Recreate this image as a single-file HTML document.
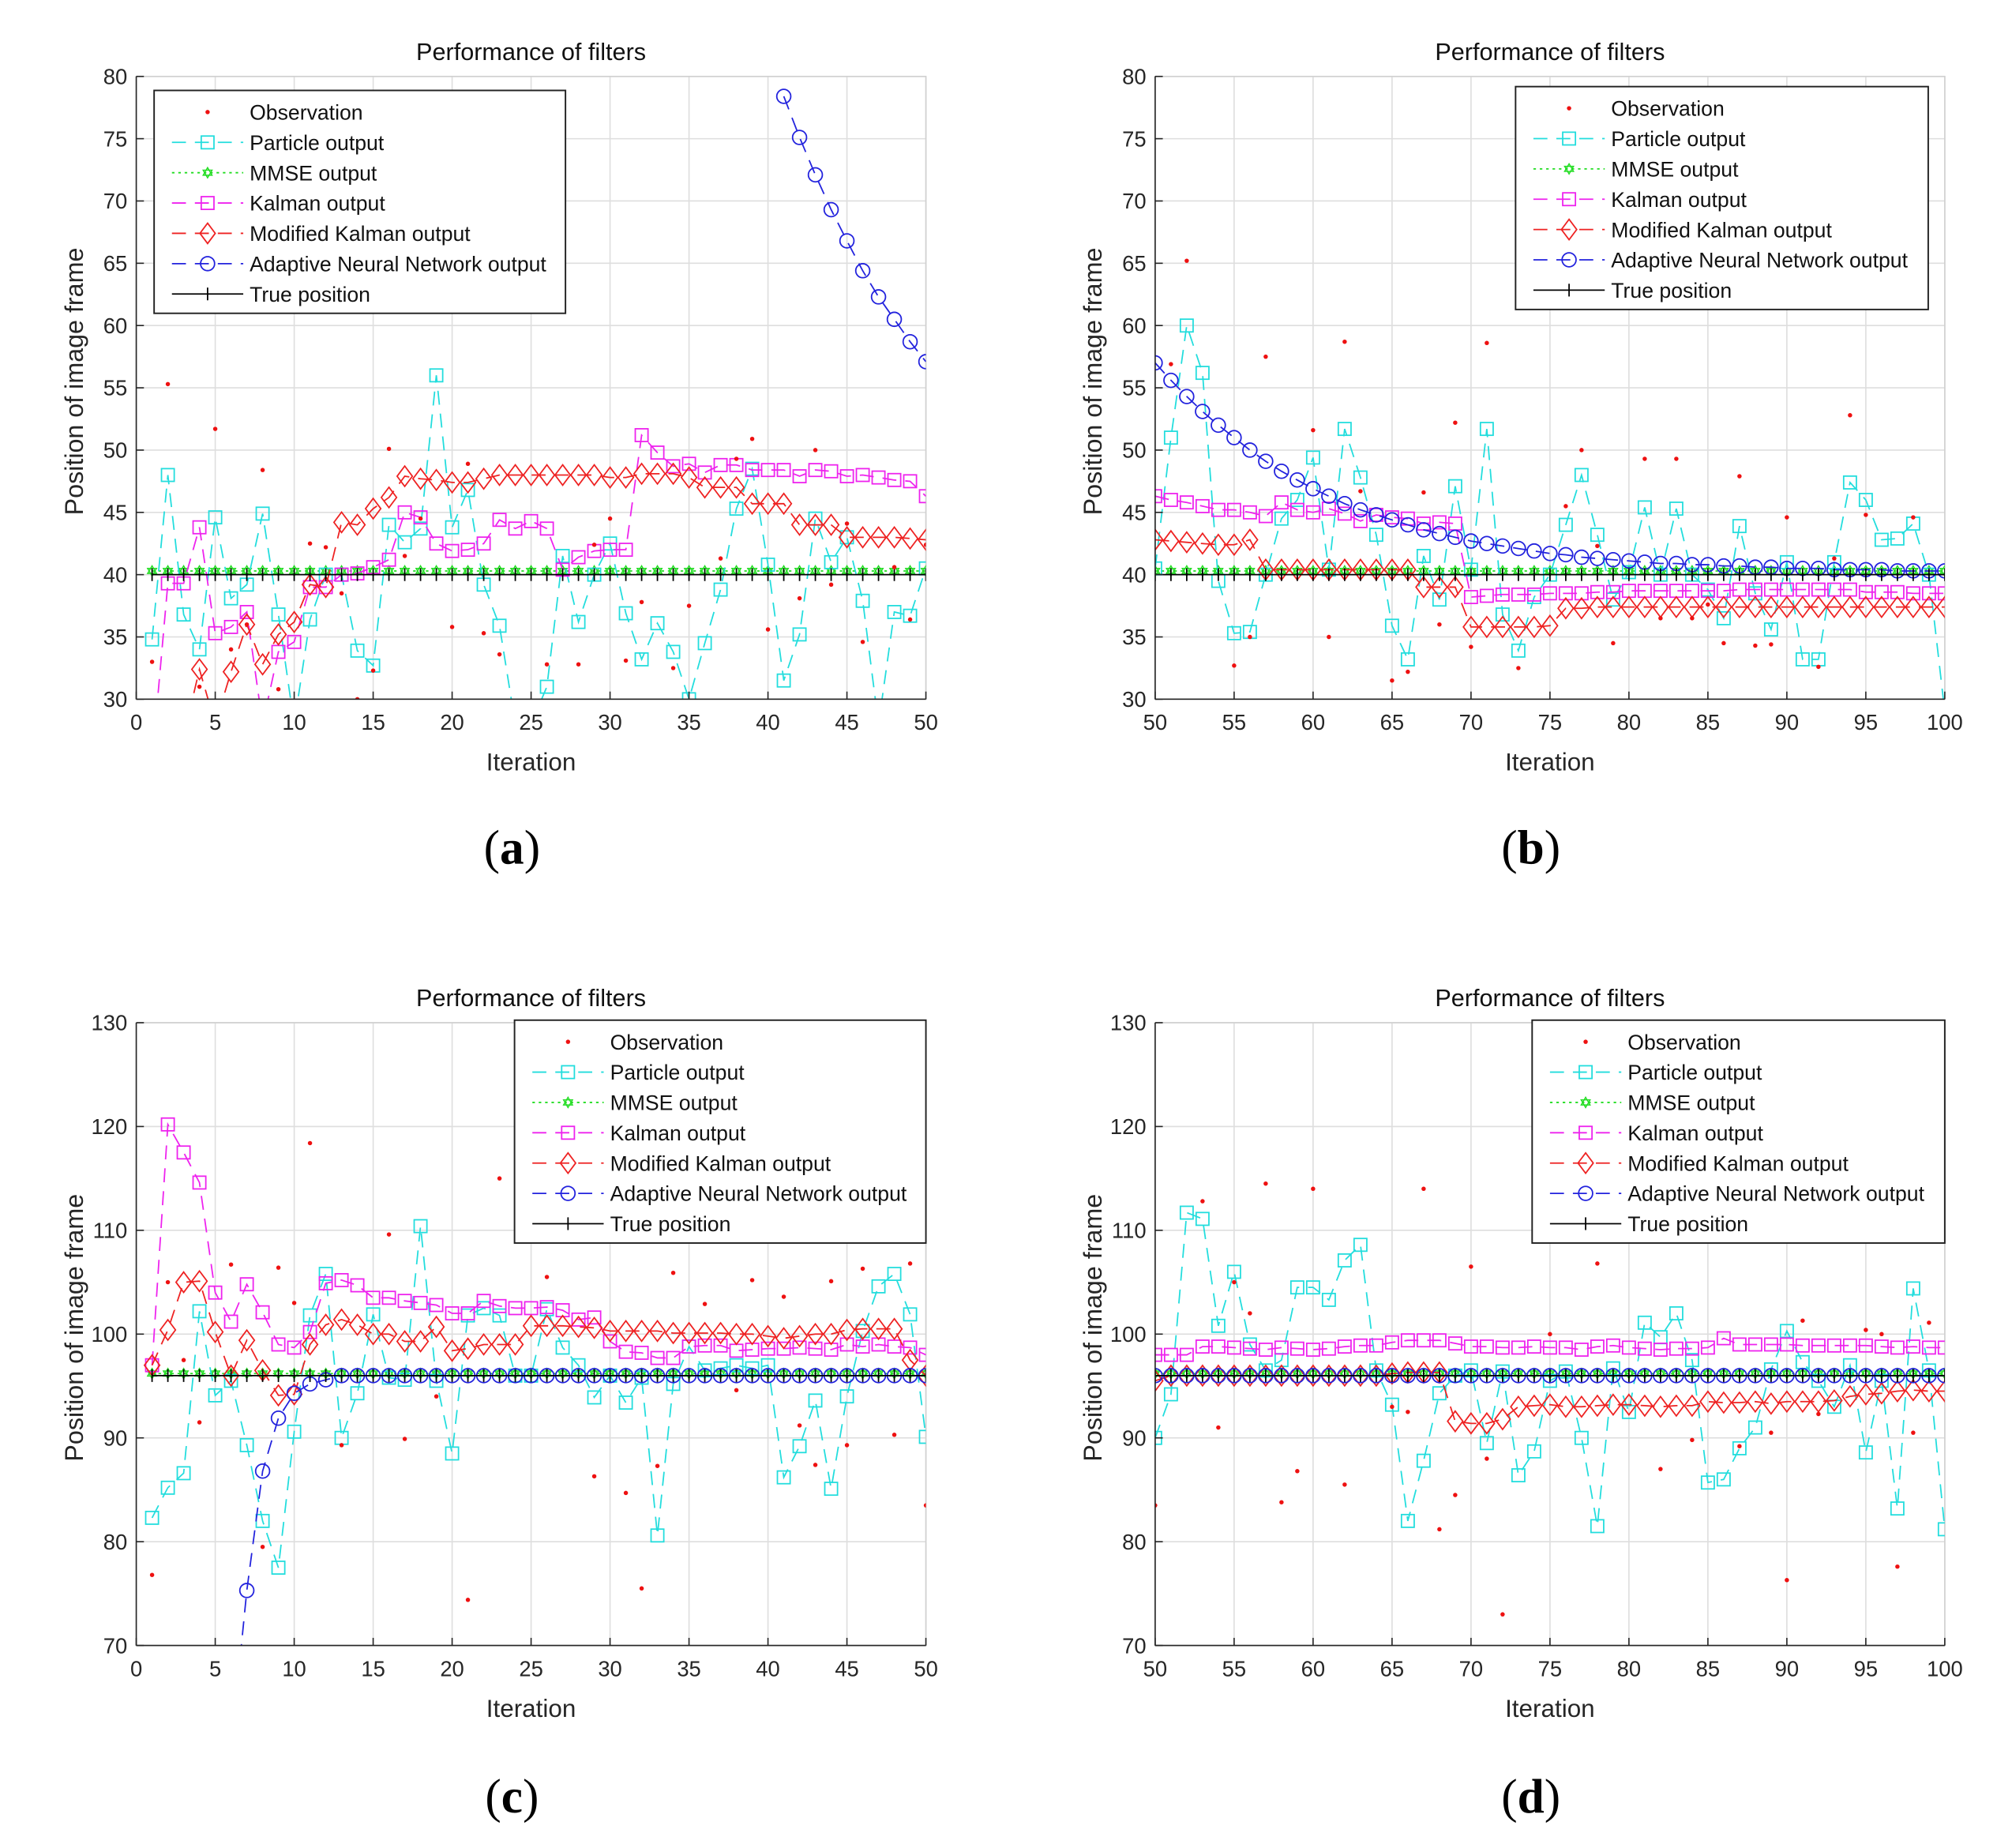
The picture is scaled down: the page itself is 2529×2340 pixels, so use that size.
<!DOCTYPE html>
<html><head><meta charset="utf-8"><style>
html,body{margin:0;padding:0;background:#fff;}
svg{display:block;}
</style></head><body>
<svg id="fig" width="2529" height="2340" viewBox="0 0 1568 1451" preserveAspectRatio="none" xmlns="http://www.w3.org/2000/svg"></svg>
<script>
// ---------- Panel (a) data: iterations 1..50 ----------
const aObs=[33,55.3,null,31,51.7,34,36,48.4,30.8,null,42.5,42.2,38.5,30,32.3,50.1,41.5,44.5,null,35.8,48.9,35.3,33.6,null,null,32.8,null,32.8,42.4,44.5,33.1,37.8,null,32.5,37.5,null,41.3,49.3,50.9,35.6,null,38.1,50,39.2,44.1,34.6,null,40.6,36.4,42.4];
const aPart=[34.8,48,36.8,34,44.6,38.1,39.2,44.9,36.8,28,36.4,40,40,33.9,32.7,44,42.6,43.7,56,43.8,46.8,39.2,35.9,28,28,31,41.5,36.2,40,42.5,36.9,33.2,36.1,33.8,30,34.5,38.8,45.3,48.5,40.8,31.5,35.2,44.5,41,43,37.9,28,37,36.7,40.5];
const aMmse=[40.3,40.3,40.3,40.3,40.3,40.3,40.3,40.3,40.3,40.3,40.3,40.3,40.3,40.3,40.3,40.3,40.3,40.3,40.3,40.3,40.3,40.3,40.3,40.3,40.3,40.3,40.3,40.3,40.3,40.3,40.3,40.3,40.3,40.3,40.3,40.3,40.3,40.3,40.3,40.3,40.3,40.3,40.3,40.3,40.3,40.3,40.3,40.3,40.3,40.3];
const aKal=[25,39.3,39.3,43.8,35.3,35.8,37,28,33.8,34.6,39,39,40,40.1,40.6,41.2,45,44.6,42.5,41.9,42,42.5,44.4,43.7,44.3,43.7,40.4,41.4,41.9,42,42,51.2,49.8,48.7,48.9,48.2,48.8,48.8,48.4,48.4,48.4,47.9,48.4,48.3,47.9,48,47.8,47.6,47.5,46.3];
const aMod=[22,25,27,32.4,28,32.2,36,32.8,35.2,36.2,39.2,39,44.2,44,45.3,46.2,47.9,47.7,47.6,47.4,47.4,47.7,48,48,48,48,48,48,48,47.8,47.8,48.1,48.1,48.1,47.8,47,47,47,45.7,45.7,45.7,44,44,44,43,43,43,43,42.9,42.8];
const aAnn=[null,null,null,null,null,null,null,null,null,null,null,null,null,null,null,null,null,null,null,null,null,null,null,null,null,null,null,null,null,null,null,null,null,null,null,null,null,null,null,null,78.4,75.1,72.1,69.3,66.8,64.4,62.3,60.5,58.7,57.1];
const aTrue=[40,40,40,40,40,40,40,40,40,40,40,40,40,40,40,40,40,40,40,40,40,40,40,40,40,40,40,40,40,40,40,40,40,40,40,40,40,40,40,40,40,40,40,40,40,40,40,40,40,40];
// ---------- Panel (b) data: iterations 50..100 ----------
const bObs=[null,56.9,65.2,null,null,32.7,35,57.5,null,null,51.6,35,58.7,46.7,null,31.5,32.2,46.6,36,52.2,34.2,58.6,null,32.5,null,null,45.5,50,42.3,34.5,null,49.3,36.5,49.3,36.5,37.6,34.5,47.9,34.3,34.4,44.6,null,32.6,41.3,52.8,44.8,null,null,44.6,null,null];
const bPart=[40.5,51,60,56.2,39.5,35.3,35.4,40,44.5,46,49.4,40.4,51.7,47.8,43.2,35.9,33.2,41.5,38,47.1,40.4,51.7,36.8,33.9,38.2,40,44,48,43.2,38,40.2,45.4,40,45.3,40,38.8,36.5,43.9,38.5,35.6,41,33.2,33.2,41,47.4,46,42.8,42.9,44.1,40,29];
const bMmse=[40.3,40.3,40.3,40.3,40.3,40.3,40.3,40.3,40.3,40.3,40.3,40.3,40.3,40.3,40.3,40.3,40.3,40.3,40.3,40.3,40.3,40.3,40.3,40.3,40.3,40.3,40.3,40.3,40.3,40.3,40.3,40.3,40.3,40.3,40.3,40.3,40.3,40.3,40.3,40.3,40.3,40.3,40.3,40.3,40.3,40.3,40.3,40.3,40.3,40.3,40.3];
const bKal=[46.3,46,45.8,45.5,45.2,45.2,45,44.7,45.8,45.2,45,45.3,44.9,44.3,44.8,44.6,44.5,44.1,44.2,44.1,38.2,38.3,38.4,38.4,38.4,38.5,38.5,38.5,38.6,38.6,38.7,38.7,38.7,38.7,38.7,38.7,38.7,38.8,38.8,38.8,38.8,38.8,38.8,38.8,38.8,38.6,38.6,38.6,38.5,38.5,38.5];
const bMod=[42.8,42.7,42.6,42.5,42.4,42.4,42.8,40.4,40.4,40.4,40.4,40.4,40.4,40.4,40.4,40.4,40.4,39,39,39,35.8,35.8,35.8,35.8,35.8,35.9,37.3,37.3,37.4,37.4,37.4,37.4,37.4,37.4,37.4,37.4,37.4,37.4,37.4,37.4,37.4,37.4,37.4,37.4,37.4,37.4,37.4,37.4,37.4,37.4,37.4];
const bAnn=[57,55.6,54.3,53.1,52,51,50,49.1,48.3,47.6,46.9,46.3,45.7,45.2,44.8,44.4,44,43.6,43.3,43,42.7,42.5,42.3,42.1,41.9,41.7,41.6,41.4,41.3,41.2,41.1,41,40.9,40.9,40.8,40.8,40.7,40.7,40.6,40.6,40.5,40.5,40.5,40.4,40.4,40.4,40.4,40.3,40.3,40.3,40.3];
const bTrue=[40,40,40,40,40,40,40,40,40,40,40,40,40,40,40,40,40,40,40,40,40,40,40,40,40,40,40,40,40,40,40,40,40,40,40,40,40,40,40,40,40,40,40,40,40,40,40,40,40,40,40];
// ---------- Panel (c) data: iterations 1..50 ----------
const cObs=[76.8,105,97.5,91.5,null,106.7,null,79.5,106.4,103,118.4,null,89.3,null,null,109.6,89.9,null,94,null,74.4,null,115,null,null,105.5,null,null,86.3,null,84.7,75.5,87.3,105.9,null,102.9,null,94.6,105.2,null,103.6,91.2,87.4,105.1,89.3,106.3,null,90.3,106.8,83.5];
const cPart=[82.3,85.2,86.6,102.2,94.1,95.5,89.3,82,77.5,90.6,101.8,105.8,90,94.3,101.9,95.8,95.6,110.4,95.5,88.5,101.8,102.5,101.8,96,96,102.4,98.7,97,93.9,96,93.4,95.8,80.6,95.2,98.8,96.5,96.7,97,96.7,97,86.2,89.2,93.6,85.1,94,100.3,104.6,105.8,101.9,90.1];
const cMmse=[96.2,96.2,96.2,96.2,96.2,96.2,96.2,96.2,96.2,96.2,96.2,96.2,96.2,96.2,96.2,96.2,96.2,96.2,96.2,96.2,96.2,96.2,96.2,96.2,96.2,96.2,96.2,96.2,96.2,96.2,96.2,96.2,96.2,96.2,96.2,96.2,96.2,96.2,96.2,96.2,96.2,96.2,96.2,96.2,96.2,96.2,96.2,96.2,96.2,96.2];
const cKal=[97,120.2,117.5,114.6,104,101.2,104.8,102.1,99,98.7,100.2,104.9,105.2,104.7,103.5,103.5,103.2,103,102.8,102,102,103.2,102.7,102.5,102.5,102.6,102.3,101.4,101.6,99.3,98.3,98.2,97.7,97.7,98.8,98.9,98.9,98.4,98.5,98.6,98.6,98.7,98.6,98.5,99,98.8,99,98.8,98.7,98];
const cMod=[97,100.4,105,105.1,100.2,96,99.4,96.5,94.1,94.2,99,100.9,101.4,100.9,100,100,99.3,99.3,100.7,98.4,98.6,99,99,99,100.8,100.8,100.8,100.7,100.6,100.3,100.3,100.3,100.3,100.1,100.1,100.1,100.1,100,100,99.8,99.6,99.8,100,100,100.4,100.5,100.5,100.5,97.5,96];
const cAnn=[null,null,null,null,null,60,75.3,86.8,91.9,94.3,95.2,95.6,96,96,96,96,96,96,96,96,96,96,96,96,96,96,96,96,96,96,96,96,96,96,96,96,96,96,96,96,96,96,96,96,96,96,96,96,96,96];
const cTrue=[96,96,96,96,96,96,96,96,96,96,96,96,96,96,96,96,96,96,96,96,96,96,96,96,96,96,96,96,96,96,96,96,96,96,96,96,96,96,96,96,96,96,96,96,96,96,96,96,96,96];
// ---------- Panel (d) data: iterations 50..100 ----------
const dObs=[83.5,null,null,112.8,91,105,102,114.5,83.8,86.8,114,null,85.5,null,null,93,92.5,114,81.2,84.5,106.5,88,73,null,null,100,null,null,106.8,null,null,null,87,null,89.8,null,null,89.2,null,90.5,76.3,101.3,92.3,null,null,100.4,100,77.6,90.5,101.1,null];
const dPart=[90,94.2,111.7,111.1,100.8,106,99,96.5,97.5,104.5,104.5,103.3,107.1,108.6,96.5,93.2,82,87.8,94.3,96,96.5,89.5,96.4,86.4,88.7,95.5,96.4,90,81.5,96.7,92.5,101.1,99.7,102,97.5,85.7,86,89,91,96.6,100.3,97.3,95.5,93,97,88.6,95.5,83.2,104.4,96.5,81.2];
const dMmse=[96.2,96.2,96.2,96.2,96.2,96.2,96.2,96.2,96.2,96.2,96.2,96.2,96.2,96.2,96.2,96.2,96.2,96.2,96.2,96.2,96.2,96.2,96.2,96.2,96.2,96.2,96.2,96.2,96.2,96.2,96.2,96.2,96.2,96.2,96.2,96.2,96.2,96.2,96.2,96.2,96.2,96.2,96.2,96.2,96.2,96.2,96.2,96.2,96.2,96.2,96.2];
const dKal=[98,98,98,98.8,98.8,98.7,98.6,98.5,98.7,98.6,98.5,98.6,98.8,98.9,98.9,99.2,99.4,99.4,99.4,99.1,98.8,98.8,98.7,98.7,98.8,98.7,98.7,98.5,98.8,98.9,98.7,98.6,98.5,98.6,98.6,98.7,99.6,99,99,99,99,98.9,98.9,98.9,98.9,98.9,98.8,98.7,98.8,98.7,98.7];
const dMod=[95.5,96,96,96,96,96,96,96,96,96,96,96,96,96,96,96.2,96.3,96.3,96.3,91.6,91.4,91.4,91.8,93,93.1,93.2,93,93,93.1,93.2,93.2,93.1,93,93.1,93.1,93.5,93.4,93.4,93.5,93.3,93.5,93.5,93.5,93.6,94,94.2,94.3,94.5,94.6,94.5,94.5];
const dAnn=[96,96,96,96,96,96,96,96,96,96,96,96,96,96,96,96,96,96,96,96,96,96,96,96,96,96,96,96,96,96,96,96,96,96,96,96,96,96,96,96,96,96,96,96,96,96,96,96,96,96,96];
const dTrue=[96,96,96,96,96,96,96,96,96,96,96,96,96,96,96,96,96,96,96,96,96,96,96,96,96,96,96,96,96,96,96,96,96,96,96,96,96,96,96,96,96,96,96,96,96,96,96,96,96,96,96];
// axis tick labels
const xTicksA=[0,5,10,15,20,25,30,35,40,45,50];
const xTicksB=[50,55,60,65,70,75,80,85,90,95,100];
const yTicksAB=[30,35,40,45,50,55,60,65,70,75,80];
const yTicksCD=[70,80,90,100,110,120,130];
const legendLabels=["Observation","Particle output","MMSE output","Kalman output","Modified Kalman output","Adaptive Neural Network output","True position"];

const NS="http://www.w3.org/2000/svg";
const SANS='"Liberation Sans", sans-serif';
const svg=document.getElementById('fig');
function mk(tag,attrs,parent){const e=document.createElementNS(NS,tag);for(const k in attrs)e.setAttribute(k,attrs[k]);if(tag==='text'&&!attrs['font-family'])e.setAttribute('font-family',SANS);(parent||svg).appendChild(e);return e;}

function marker(g,type,x,y,color){
  let m;
  if(type==='sq') m=mk('rect',{x:x-5,y:y-5,width:10,height:10,fill:'none',stroke:color,'stroke-width':1.1},g);
  else if(type==='dia') m=mk('path',{d:`M${x} ${y-8}L${x+6} ${y}L${x} ${y+8}L${x-6} ${y}Z`,fill:'none',stroke:color,'stroke-width':1.1},g);
  else if(type==='circ') m=mk('circle',{cx:x,cy:y,r:5.5,fill:'none',stroke:color,'stroke-width':1.1},g);
  else if(type==='hex') m=mk('path',{d:`M${x} ${y-4}L${x+3.5} ${y+2}L${x-3.5} ${y+2}ZM${x} ${y+4}L${x+3.5} ${y-2}L${x-3.5} ${y-2}Z`,fill:'none',stroke:color,'stroke-width':0.9},g);
  else if(type==='plus') m=mk('path',{d:`M${x} ${y-5}V${y+5}`,stroke:color,'stroke-width':1.1},g);
  else if(type==='dot') m=mk('circle',{cx:x,cy:y,r:1.7,fill:color},g);
  return m;
}

function panel(id,L,T,W,H,x0,x1,y0,y1,xt,yt,series,leg){
  const g=mk('g',{});
  
  
  const off=(id==='a'||id==='c')?1:0;
  const sx=v=>L+(v-x0)/(x1-x0)*W, sy=v=>T+H-(v-y0)/(y1-y0)*H;
  xt.forEach(v=>mk('line',{x1:sx(v),x2:sx(v),y1:T,y2:T+H,stroke:'#dedede','stroke-width':1},g));
  yt.forEach(v=>mk('line',{x1:L,x2:L+W,y1:sy(v),y2:sy(v),stroke:'#dedede','stroke-width':1},g));
  mk('rect',{x:L,y:T,width:W,height:H,fill:'none',stroke:'#d0d0d0','stroke-width':1},g);
  const clipId='clip'+id;
  const cp=mk('clipPath',{id:clipId},g);mk('rect',{x:L,y:T,width:W,height:H},cp);
  const pg=mk('g',{'clip-path':`url(#${clipId})`},g);
  series.forEach(s=>{
    const sg=mk('g',{},pg);
    
    
    let pts=[];
    s.data.forEach((v,i)=>{if(v!==null)pts.push([sx(x0+off+i),sy(v)]);});
    if(s.dash!==null){
      let d='';let prevNull=true;
      s.data.forEach((v,i)=>{if(v===null){prevNull=true;return;}const X=sx(x0+off+i),Y=sy(v);d+=(prevNull?'M':'L')+X.toFixed(1)+' '+Y.toFixed(1);prevNull=false;});
      mk('path',{d:d,fill:'none',stroke:s.color,'stroke-width':1.1,'stroke-dasharray':s.dash},sg);
    }
    pts.forEach(p=>marker(sg,s.mk,p[0],p[1],s.color));
  });
  mk('line',{x1:L,x2:L,y1:T,y2:T+H,stroke:'#262626','stroke-width':1},g);
  mk('line',{x1:L,x2:L+W,y1:T+H,y2:T+H,stroke:'#262626','stroke-width':1},g);
  xt.forEach(v=>{mk('line',{x1:sx(v),x2:sx(v),y1:T+H,y2:T+H-6,stroke:'#262626'},g);
    const t=mk('text',{x:sx(v),y:T+H+24,'text-anchor':'middle','font-size':17,fill:'#262626'},g);t.textContent=v;});
  yt.forEach(v=>{mk('line',{x1:L,x2:L+6,y1:sy(v),y2:sy(v),stroke:'#262626'},g);
    const t=mk('text',{x:L-7,y:sy(v)+6,'text-anchor':'end','font-size':17,fill:'#262626'},g);t.textContent=v;});
  const tt=mk('text',{x:L+W/2,y:T-13,'text-anchor':'middle','font-size':19,fill:'#111'},g);tt.textContent='Performance of filters';
  
  const xl=mk('text',{x:L+W/2,y:T+H+56,'text-anchor':'middle','font-size':19.5,fill:'#262626'},g);xl.textContent='Iteration';
  
  const yl=mk('text',{x:0,y:0,'text-anchor':'middle','font-size':20,fill:'#262626',transform:`translate(${L-42},${T+H/2-5}) rotate(-90)`},g);yl.textContent='Position of image frame';
  
  const lg=mk('g',{},g);
  
  
  mk('rect',{x:leg[0],y:leg[1],width:leg[2],height:175,fill:'#fff',stroke:'#222','stroke-width':1.2},lg);
  series.slice().sort((a,b)=>a.li-b.li).forEach(s=>{
    const y=leg[1]+17+s.li*23.8, lx=leg[0]+14;
    const e=mk('g',{},lg);
    
    
    if(s.dash!==null) mk('line',{x1:lx,x2:lx+56,y1:y,y2:y,stroke:s.color,'stroke-width':1.1,'stroke-dasharray':s.dash},e);
    marker(e,s.mk,lx+28,y,s.color);
    const t=mk('text',{x:lx+61,y:y+6,'font-size':16.5,fill:'#111'},e);t.textContent=legendLabels[s.li];
  });
  return g;
}
function ser(o,p,m,k,mo,an,tr){return [
 {name:'mmse',data:m,color:'#22dd22',mk:'hex',dash:'2,3',li:2},
 {name:'particle',data:p,color:'#22dddd',mk:'sq',dash:'11,7',li:1},
 {name:'kalman',data:k,color:'#ee22ee',mk:'sq',dash:'11,7',li:3},
 {name:'modified-kalman',data:mo,color:'#ee2222',mk:'dia',dash:'11,7',li:4},
 {name:'ann',data:an,color:'#2222dd',mk:'circ',dash:'11,7',li:5},
 {name:'true-position',data:tr,color:'#000',mk:'plus',dash:'',li:6},
 {name:'observation',data:o,color:'#ee1111',mk:'dot',dash:null,li:0}];}
panel('a',107,60,620,489,0,50,30,80,xTicksA,yTicksAB,ser(aObs,aPart,aMmse,aKal,aMod,aAnn,aTrue),[121,71,323]);
panel('b',907,60,620,489,50,100,30,80,xTicksB,yTicksAB,ser(bObs,bPart,bMmse,bKal,bMod,bAnn,bTrue),[1190,68,324]);
panel('c',107,803,620,489,0,50,70,130,xTicksA,yTicksCD,ser(cObs,cPart,cMmse,cKal,cMod,cAnn,cTrue),[404,801,323]);
panel('d',907,803,620,489,50,100,70,130,xTicksB,yTicksCD,ser(dObs,dPart,dMmse,dKal,dMod,dAnn,dTrue),[1203,801,324]);
[['(a)',402,678],['(b)',1202,678],['(c)',402,1423],['(d)',1202,1423]].forEach(a=>{
  const t=mk('text',{x:a[1],y:a[2],'text-anchor':'middle','font-size':38,'font-family':'"Liberation Serif", serif',fill:'#000'});
  t.innerHTML='(<tspan font-weight="bold">'+a[0].slice(1,2)+'</tspan>)';
  
  
});
</script>
</body></html>
